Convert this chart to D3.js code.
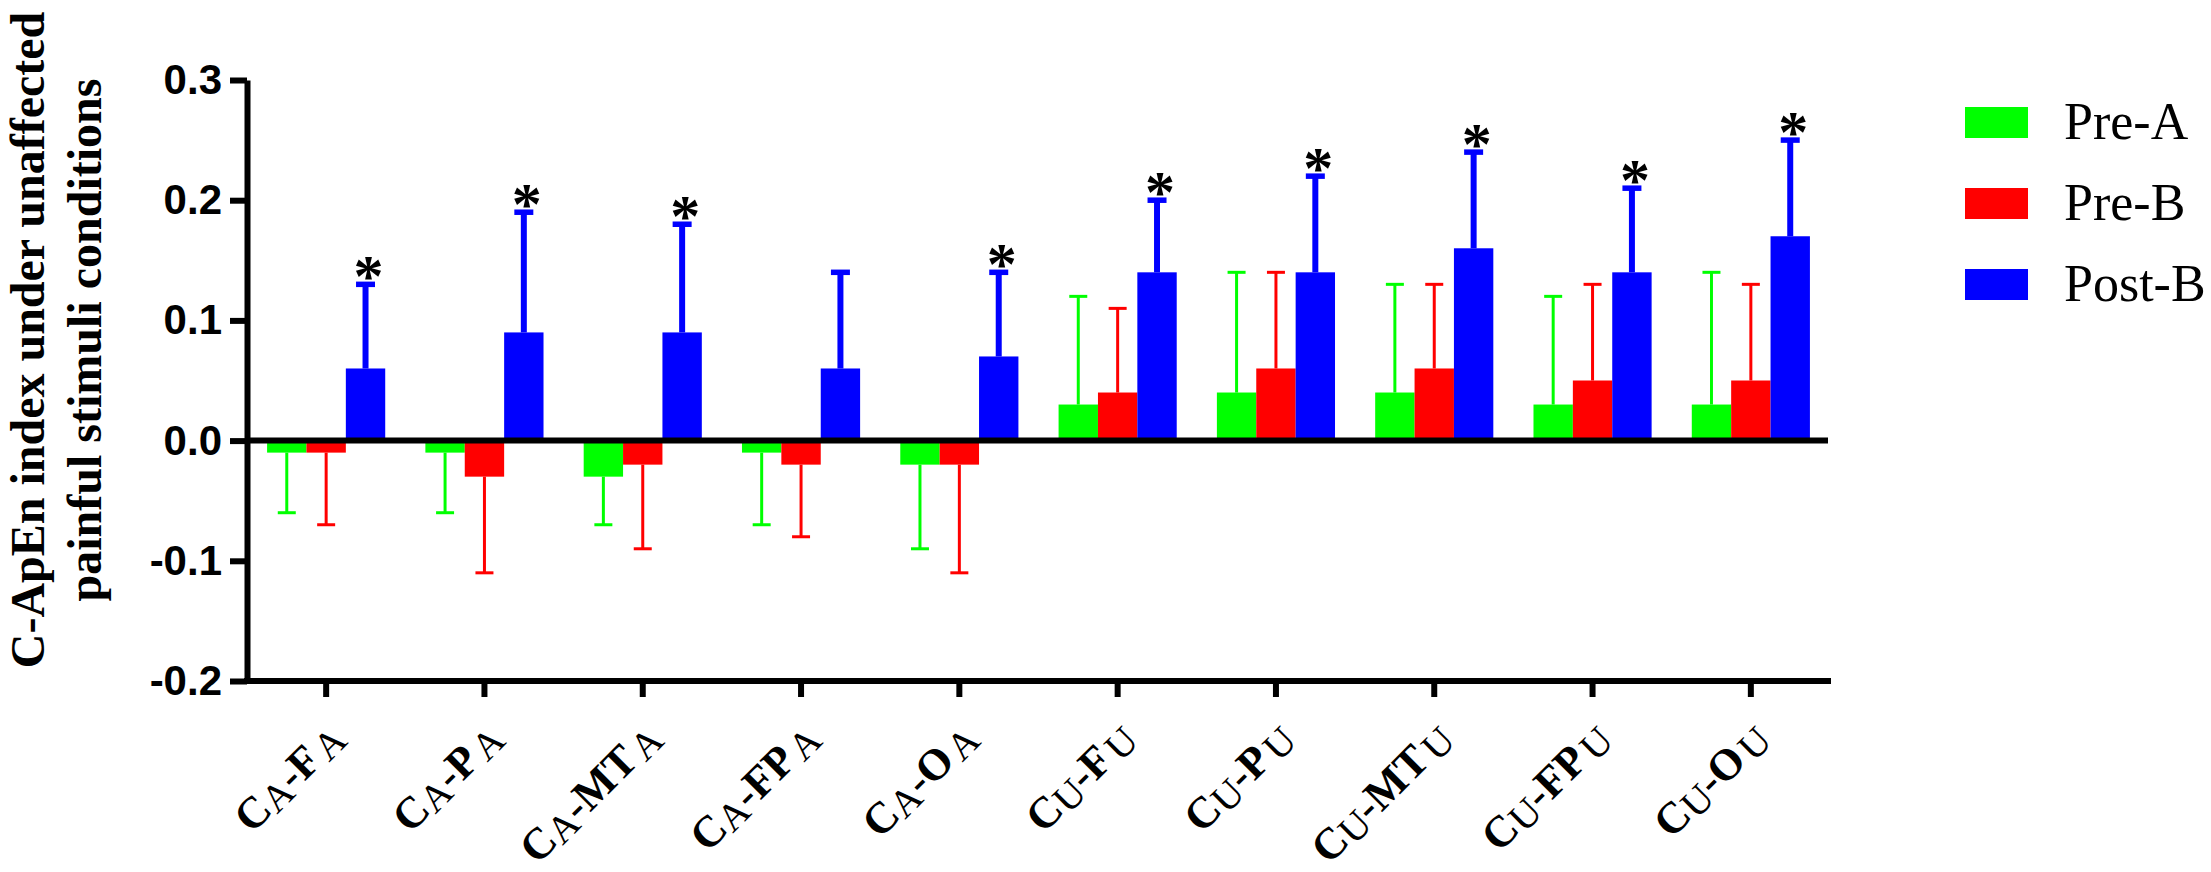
<!DOCTYPE html>
<html>
<head>
<meta charset="utf-8">
<script src="https://cdn.jsdelivr.net/npm/d3@7"></script>
<style>
  body { margin: 0; background: #fff; }
  svg { display: block; }
</style>
</head>
<body>
<svg width="2211" height="872"></svg>
<script>
// categories: C + side letter, - , stimulus + side letter
var categories = ['CA-FA', 'CA-PA', 'CA-MTA', 'CA-FPA', 'CA-OA', 'CU-FU', 'CU-PU', 'CU-MTU', 'CU-FPU', 'CU-OU'];
var seriesNames = ['Pre-A', 'Pre-B', 'Post-B'];
var seriesColors = ['#00ff00', '#ff0000', '#0000ff'];

var preA = [-0.01, -0.01, -0.03, -0.01, -0.02, 0.03, 0.04, 0.04, 0.03, 0.03];
var preAErr = [0.05, 0.05, 0.04, 0.06, 0.07, 0.09, 0.10, 0.09, 0.09, 0.11];
var preB = [-0.01, -0.03, -0.02, -0.02, -0.02, 0.04, 0.06, 0.06, 0.05, 0.05];
var preBErr = [0.06, 0.08, 0.07, 0.06, 0.09, 0.07, 0.08, 0.07, 0.08, 0.08];
var postB = [0.06, 0.09, 0.09, 0.06, 0.07, 0.14, 0.14, 0.16, 0.14, 0.17];
var postBErr = [0.07, 0.10, 0.09, 0.08, 0.07, 0.06, 0.08, 0.08, 0.07, 0.08];
var significant = [true, true, true, false, true, true, true, true, true, true];

var yTicks = [-0.2, -0.1, 0.0, 0.1, 0.2, 0.3];
var yTitle = ['C-ApEn index under unaffected', 'painful stimuli conditions'];

var svg = d3.select('svg'),
  width = +svg.attr('width'),
  height = +svg.attr('height');

svg.append('rect').attr('width', width).attr('height', height).attr('fill', '#fff');

var x0 = d3.scaleBand().domain(categories).range([247, 1830]).paddingInner(0).paddingOuter(0);
var x1 = d3.scaleBand().domain(seriesNames).range([0, x0.bandwidth()]).paddingInner(0).paddingOuter(0.51);
var y = d3.scaleLinear().domain([-0.2, 0.3]).range([681, 80]);

var table = [
  { name: 'Pre-A', values: preA, errors: preAErr, heavy: false },
  { name: 'Pre-B', values: preB, errors: preBErr, heavy: false },
  { name: 'Post-B', values: postB, errors: postBErr, heavy: true }
];
var color = d3.scaleOrdinal().domain(seriesNames).range(seriesColors);

var rows = [];
table.forEach(function (s) {
  categories.forEach(function (c, i) {
    rows.push({ cat: c, i: i, series: s.name, v: s.values[i], e: s.errors[i], heavy: s.heavy });
  });
});

// bars
svg.append('g')
  .selectAll('rect')
  .data(rows)
  .enter()
  .append('rect')
  .attr('x', function (d) { return x0(d.cat) + x1(d.series); })
  .attr('width', x1.bandwidth())
  .attr('y', function (d) { return y(Math.max(0, d.v)); })
  .attr('height', function (d) { return Math.abs(y(d.v) - y(0)); })
  .attr('fill', function (d) { return color(d.series); });

// error bars (one-sided, away from zero)
var err = svg.append('g')
  .selectAll('g')
  .data(rows)
  .enter()
  .append('g')
  .attr('stroke', function (d) { return color(d.series); });

function cx(d) { return x0(d.cat) + x1(d.series) + x1.bandwidth() / 2; }
function tip(d) { return d.v + (d.v < 0 ? -d.e : d.e); }

err.append('line')
  .attr('x1', cx).attr('x2', cx)
  .attr('y1', function (d) { return y(d.v); })
  .attr('y2', function (d) { return y(tip(d)); })
  .attr('stroke-width', function (d) { return d.heavy ? 6 : 3; });

err.append('line')
  .attr('x1', function (d) { return cx(d) - (d.heavy ? 9.5 : 9); })
  .attr('x2', function (d) { return cx(d) + (d.heavy ? 9.5 : 9); })
  .attr('y1', function (d) { return y(tip(d)); })
  .attr('y2', function (d) { return y(tip(d)); })
  .attr('stroke-width', function (d) { return d.heavy ? 5.5 : 3; });

// significance stars over Post-B
svg.append('g')
  .selectAll('text')
  .data(rows.filter(function (d) { return d.series === 'Post-B' && significant[d.i]; }))
  .enter()
  .append('text')
  .attr('x', function (d) { return cx(d) + 3; })
  .attr('y', function (d) { return y(tip(d)) + 12; })
  .attr('text-anchor', 'middle')
  .attr('font-family', '"Liberation Serif", "Times New Roman", serif')
  .attr('font-weight', 'bold')
  .attr('font-size', 60)
  .attr('fill', '#000')
  .text('*');

// zero line
svg.append('line')
  .attr('x1', 247).attr('x2', 1828)
  .attr('y1', y(0)).attr('y2', y(0))
  .attr('stroke', '#000').attr('stroke-width', 6);

// y axis
var yAxis = svg.append('g')
  .attr('transform', 'translate(247,0)')
  .call(d3.axisLeft(y)
    .tickValues(yTicks)
    .tickSize(17)
    .tickSizeOuter(0)
    .tickPadding(8)
    .tickFormat(function (d) { return d3.format('.1f')(d).replace('\u2212', '-'); }));
yAxis.selectAll('path, line').attr('stroke', '#000').attr('stroke-width', 6);
yAxis.selectAll('text')
  .attr('font-family', '"Liberation Sans", Arial, sans-serif')
  .attr('font-weight', 'bold')
  .attr('font-size', 42)
  .attr('fill', '#000');

// x axis
var xAxis = svg.append('g')
  .attr('transform', 'translate(0,' + y(-0.2) + ')')
  .call(d3.axisBottom(x0).tickSize(16).tickSizeOuter(0).tickFormat(''));
xAxis.selectAll('path, line').attr('stroke', '#000').attr('stroke-width', 6);
xAxis.select('.domain').attr('d', 'M244,0H1831');

// x labels, rotated, C and stimulus bold, side letters plain
var labels = svg.append('g')
  .selectAll('text')
  .data(categories)
  .enter()
  .append('text')
  .attr('transform', function (d) {
    return 'translate(' + (x0(d) + x0.bandwidth() / 2 + 20) + ',740) rotate(-45)';
  })
  .attr('text-anchor', 'end')
  .attr('font-family', '"Liberation Serif", "Times New Roman", serif')
  .attr('fill', '#000');

labels.each(function (d) {
  var t = d3.select(this);
  t.append('tspan').attr('font-weight', 'bold').attr('font-size', 44).text(d[0]);
  t.append('tspan').attr('font-size', 39).attr('dy', 4).text(d[1]);
  t.append('tspan').attr('font-weight', 'bold').attr('font-size', 44).attr('dy', -4).text(d.slice(2, -1));
  t.append('tspan').attr('font-size', 39).attr('dx', 4).attr('dy', 4).text(d.slice(-1));
});

// y title
var title = svg.append('text')
  .attr('transform', 'translate(0,340) rotate(-90)')
  .attr('text-anchor', 'middle')
  .attr('font-family', '"Liberation Serif", "Times New Roman", serif')
  .attr('font-weight', 'bold')
  .attr('font-size', 48)
  .attr('fill', '#000');
title.selectAll('tspan')
  .data(yTitle)
  .enter()
  .append('tspan')
  .attr('x', 0)
  .attr('y', function (d, i) { return 44 + i * 57; })
  .text(function (d) { return d; });

// legend
var legend = svg.append('g')
  .selectAll('g')
  .data(seriesNames)
  .enter()
  .append('g')
  .attr('transform', function (d, i) { return 'translate(1965,' + (107 + i * 81) + ')'; });
legend.append('rect')
  .attr('width', 63).attr('height', 31)
  .attr('fill', function (d) { return color(d); });
legend.append('text')
  .attr('x', 99).attr('y', 32)
  .attr('font-family', '"Liberation Serif", "Times New Roman", serif')
  .attr('font-size', 52)
  .attr('fill', '#000')
  .text(function (d) { return d; });
</script>
</body>
</html>
